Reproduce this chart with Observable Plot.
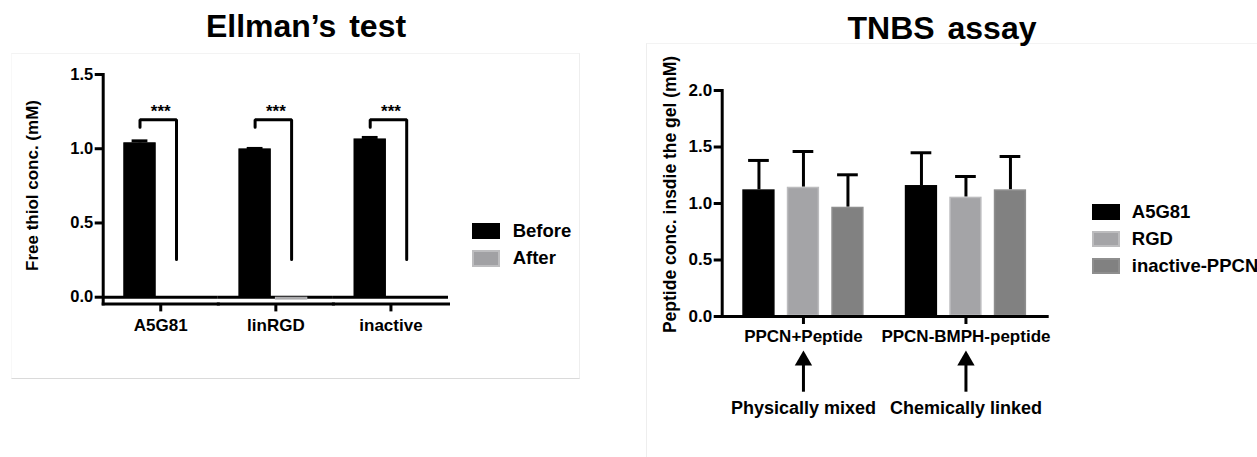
<!DOCTYPE html>
<html><head><meta charset="utf-8">
<script src="https://cdn.jsdelivr.net/npm/d3@7"></script>
<script src="https://cdn.jsdelivr.net/npm/@observablehq/plot@0.6"></script>
<style>
html,body{margin:0;padding:0;background:#fff;}
#page{position:relative;width:1257px;height:457px;overflow:hidden;font-family:"Liberation Sans",Arial,sans-serif;font-weight:bold;color:#000;}
.title{position:absolute;width:400px;font-size:32px;line-height:32px;text-align:center;white-space:nowrap;word-spacing:4px;}
.legrow{position:absolute;display:flex;align-items:center;white-space:nowrap;font-size:18.5px;}
.sw{box-sizing:border-box;display:inline-block;}
.panel{position:absolute;box-sizing:border-box;}
</style></head><body><div id="page"></div>
<script>
// ---------- Ellman's test data ----------
const ellmanCategories = ["A5G81", "linRGD", "inactive"];
const ellmanSeries = ["Before", "After"];
const ellmanBefore = [1.040, 0.999, 1.066];
const ellmanBeforeErr = [0.013, 0.003, 0.010];
const ellmanAfter = [0.0, -0.02, 0.0];
const ellmanAfterErr = [0, 0, 0];
const ellmanSigLabels = ["***", "***", "***"];
const ellmanSigLevel = [1.253, 1.253, 1.253];
const ellmanBracketTop = [1.195, 1.195, 1.195];
const ellmanBracketLeftEnd = [1.145, 1.145, 1.145];
const ellmanBracketRightEnd = [0.254, 0.254, 0.254];
const ellmanYTicks = [0, 0.5, 1.0, 1.5];
const ellmanColors = ["#000000", "#a1a1a4"];
const ellmanEdges = ["#000000", "#bdbdbf"];

// ---------- TNBS assay data ----------
const tnbsCategories = ["PPCN+Peptide", "PPCN-BMPH-peptide"];
const tnbsSeries = ["A5G81", "RGD", "inactive-PPCN"];
const tnbsA5G81 = [1.121, 1.159];
const tnbsA5G81Err = [0.260, 0.290];
const tnbsRGD = [1.144, 1.056];
const tnbsRGDErr = [0.316, 0.183];
const tnbsInactive = [0.967, 1.121];
const tnbsInactiveErr = [0.287, 0.295];
const tnbsAnnotations = ["Physically mixed", "Chemically linked"];
const tnbsYTicks = [0, 0.5, 1.0, 1.5, 2.0];
const tnbsColors = ["#000000", "#a4a4a7", "#818181"];
const tnbsEdges = ["#000000", "#bcbcbe", "#8e8e8e"];

const FONT = "Liberation Sans, Arial, sans-serif";
const page = document.getElementById("page");

function addDiv(cls, css, text) {
  const d = document.createElement("div");
  d.className = cls;
  Object.assign(d.style, css);
  if (text != null) d.textContent = text;
  page.appendChild(d);
  return d;
}

// panel frames (faint)
addDiv("panel", {left:"11px", top:"53px", width:"569px", height:"326px",
  borderTop:"1px solid #f3f3f3", borderRight:"1px solid #eeeeee", borderBottom:"1.5px solid #dadada", borderLeft:"1px solid #f8f8f8"});
addDiv("panel", {left:"646px", top:"43px", width:"620px", height:"430px",
  borderTop:"1px solid #f3f3f3", borderLeft:"1px solid #eeeeee"});

// titles
addDiv("title", {left:(306 - 200) + "px", top:"10px"}, "Ellman\u2019s test");
addDiv("title", {left:(942 - 200) + "px", top:"12px"}, "TNBS assay");

// ---------- Left chart ----------
const ellmanRows = [];
ellmanCategories.forEach((c, i) => {
  ellmanRows.push({cat: c, series: "Before", value: ellmanBefore[i], err: ellmanBeforeErr[i]});
  ellmanRows.push({cat: c, series: "After", value: ellmanAfter[i], err: ellmanAfterErr[i]});
});
const ellmanBrackets = ellmanCategories.flatMap((c, i) => [
  {cat: c, x: "Before", y: ellmanBracketLeftEnd[i]},
  {cat: c, x: "Before", y: ellmanBracketTop[i]},
  {cat: c, x: "After", y: ellmanBracketTop[i]},
  {cat: c, x: "After", y: ellmanBracketRightEnd[i]}
]);
const ellmanSig = ellmanCategories.map((c, i) => ({cat: c, label: ellmanSigLabels[i], y: ellmanSigLevel[i]}));
const ellmanErrRows = ellmanRows.filter(d => d.err > 0);

const left = Plot.plot({
  width: 600, height: 380,
  marginLeft: 102.7, marginRight: 152, marginTop: 24, marginBottom: 126.6,
  style: {background: "transparent", fontFamily: FONT, fontWeight: "bold", fontSize: "17px", color: "#000", overflow: "visible"},
  fx: {domain: ellmanCategories, padding: 0, axis: null, round: false},
  x: {domain: ellmanSeries, paddingInner: 0.112, paddingOuter: 0.633, align: 0.446, axis: null, round: false},
  y: {domain: [-0.0451, 1.5], axis: null},
  color: {domain: ellmanSeries, range: ellmanColors},
  marks: [
    Plot.ruleY([0], {strokeWidth: 3}),
    ...ellmanSeries.map((s, k) => Plot.barY(ellmanRows.filter(d => d.series === s),
      {fx: "cat", x: "series", y: "value", fill: "series", stroke: ellmanEdges[k], strokeWidth: 1, inset: 0.5})),
    Plot.ruleX(ellmanErrRows, {fx: "cat", x: "series", y1: "value", y2: d => d.value + d.err, strokeWidth: 3}),
    Plot.tickY(ellmanErrRows, {fx: "cat", x: "series", y: d => d.value + d.err, strokeWidth: 3, insetLeft: 8.3, insetRight: 8.3}),
    Plot.line(ellmanBrackets, {fx: "cat", x: "x", y: "y", z: "cat", strokeWidth: 3, strokeLinecap: "round", strokeLinejoin: "miter"}),
    Plot.text(ellmanSig, {fx: "cat", y: "y", text: "label", frameAnchor: "middle", fontSize: 17}),
    Plot.frame({anchor: "left", facetAnchor: "left", strokeWidth: 3, strokeLinecap: "square"}),
    Plot.frame({anchor: "bottom", strokeWidth: 3, strokeLinecap: "square"}),
    Plot.axisY({ticks: ellmanYTicks, tickFormat: d3.format(".1f"), tickSize: 8, tickPadding: 2, strokeWidth: 3, fontSize: 16.5, label: null}),
    Plot.axisFx({anchor: "bottom", tickSize: 8, tickPadding: 6.6, strokeWidth: 3, fontSize: 17, label: null}),
    Plot.text(["Free thiol conc. (mM)"], {frameAnchor: "left", facetAnchor: "left", textAnchor: "middle", lineAnchor: "middle", rotate: -90, dx: -71, dy: -3.7, fontSize: 17})
  ]
});
Object.assign(left.style, {position: "absolute", left: "0px", top: "50px"});
page.appendChild(left);

// ---------- Right chart ----------
const tnbsValues = [tnbsA5G81, tnbsRGD, tnbsInactive];
const tnbsErrs = [tnbsA5G81Err, tnbsRGDErr, tnbsInactiveErr];
const tnbsRows = [];
tnbsCategories.forEach((c, i) => {
  tnbsSeries.forEach((s, k) => tnbsRows.push({cat: c, series: s, value: tnbsValues[k][i], err: tnbsErrs[k][i]}));
});
const tnbsNotes = tnbsCategories.map((c, i) => ({cat: c, label: tnbsAnnotations[i]}));

const right = Plot.plot({
  width: 617, height: 380,
  marginLeft: 81.7, marginRight: 210.3, marginTop: 40, marginBottom: 114,
  style: {background: "transparent", fontFamily: FONT, fontWeight: "bold", fontSize: "17px", color: "#000", overflow: "visible"},
  fx: {domain: tnbsCategories, padding: 0, axis: null, round: false},
  x: {domain: tnbsSeries, paddingInner: 0.274, paddingOuter: 0.463, axis: null, round: false},
  y: {domain: [0, 2], axis: null},
  color: {domain: tnbsSeries, range: tnbsColors},
  marks: [
    Plot.ruleX(tnbsRows, {fx: "cat", x: "series", y1: "value", y2: d => d.value + d.err, strokeWidth: 3}),
    Plot.tickY(tnbsRows, {fx: "cat", x: "series", y: d => d.value + d.err, strokeWidth: 3, insetLeft: 5.8, insetRight: 5.8}),
    ...tnbsSeries.map((s, k) => Plot.barY(tnbsRows.filter(d => d.series === s),
      {fx: "cat", x: "series", y: "value", fill: "series", stroke: tnbsEdges[k], strokeWidth: 1.5, inset: 0.75})),
    Plot.frame({anchor: "left", facetAnchor: "left", strokeWidth: 3, strokeLinecap: "square"}),
    Plot.frame({anchor: "bottom", strokeWidth: 3, strokeLinecap: "square"}),
    Plot.axisY({ticks: tnbsYTicks, tickFormat: d3.format(".1f"), tickSize: 8, tickPadding: 2, strokeWidth: 3, fontSize: 17, label: null}),
    Plot.axisFx({anchor: "bottom", tickSize: 8, tickPadding: 5, strokeWidth: 3, fontSize: 17, label: null}),
    Plot.ruleX(tnbsNotes, {fx: "cat", x: null, y1: () => -0.40, y2: () => -0.67, strokeWidth: 3}),
    Plot.dot(tnbsNotes, {fx: "cat", frameAnchor: "middle", y: () => -0.389, symbol: "triangle", r: 6.43, fill: "#000", stroke: "none"}),
    Plot.text(tnbsNotes, {fx: "cat", frameAnchor: "middle", y: () => -0.808, text: "label", fontSize: 18}),
    Plot.text(["Peptide conc. insdie the gel (mM)"], {frameAnchor: "left", facetAnchor: "left", textAnchor: "middle", lineAnchor: "middle", rotate: -90, dx: -52.1, dy: -9, fontSize: 17.5})
  ]
});
Object.assign(right.style, {position: "absolute", left: "640px", top: "50px"});
page.appendChild(right);

// ---------- Legends ----------
function legend(series, colors, edges, x, top, step, swW, swH, textX) {
  series.forEach((s, i) => {
    const row = addDiv("legrow", {left: x + "px", top: (top + i * step) + "px", height: swH + "px"});
    const sw = document.createElement("span");
    sw.className = "sw";
    Object.assign(sw.style, {width: swW + "px", height: swH + "px", background: colors[i],
      border: "2px solid " + edges[i]});
    row.appendChild(sw);
    const t = document.createElement("span");
    t.textContent = s;
    t.style.marginLeft = (textX - x - swW) + "px";
    row.appendChild(t);
  });
}
legend(ellmanSeries, ellmanColors, ellmanEdges, 471.7, 222.7, 27.3, 28.3, 16.6, 512.7);
legend(tnbsSeries, tnbsColors, tnbsEdges, 1092.3, 204, 27.1, 27.7, 16, 1131.8);
</script></body></html>
